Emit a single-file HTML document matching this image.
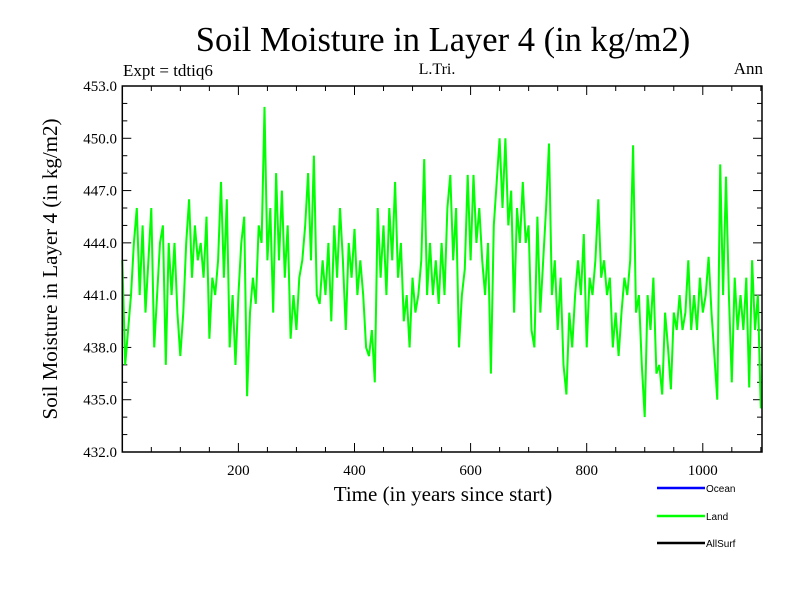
<!DOCTYPE html>
<html><head><meta charset="utf-8"><style>
body{margin:0;background:#fff;}
svg{display:block;font-family:"Liberation Serif",serif;}
</style></head><body>
<svg id="chart" width="800" height="600" viewBox="0 0 800 600" xmlns="http://www.w3.org/2000/svg">
<rect x="0" y="0" width="800" height="600" fill="#fff"/>
<text x="443" y="51" font-size="34.5" text-anchor="middle">Soil Moisture in Layer 4 (in kg/m2)</text>
<text x="123" y="76" font-size="17">Expt = tdtiq6</text>
<text x="437" y="74" font-size="16" text-anchor="middle">L.Tri.</text>
<text x="763" y="74" font-size="17" text-anchor="end">Ann</text>
<text x="443" y="501" font-size="21" text-anchor="middle">Time (in years since start)</text>
<text transform="translate(57,269) rotate(-90)" font-size="21" text-anchor="middle">Soil Moisture in Layer 4 (in kg/m2)</text>
<g id="ticks"></g>
<g id="series"></g>
<rect x="122.3" y="86" width="639.7" height="366" fill="none" stroke="#000" stroke-width="1.5"/>
<g font-family="Liberation Sans, sans-serif" font-size="10">
<line x1="657" y1="488" x2="705" y2="488" stroke="#0000ff" stroke-width="2.5"/>
<text x="706" y="492">Ocean</text>
<line x1="657" y1="516" x2="705" y2="516" stroke="#00ff00" stroke-width="2.5"/>
<text x="706" y="520">Land</text>
<line x1="657" y1="543" x2="705" y2="543" stroke="#000" stroke-width="2.5"/>
<text x="706" y="547">AllSurf</text>
</g>
</svg>
<script>
const years = [];
for (let y = 0; y <= 1100; y += 5) years.push(y);
const landValues = [443,437,439,441,444,446,441,445,440,443,446,438,441,444,445,437,444,441,444,440,437.5,440,444,446.5,442,445,443,444,442,445.5,438.5,442,441,443,447.5,442,446.5,438,441,437,441,444,445.5,435.2,440,442,440.5,445,444,451.8,443,446,440,448,443,447,442,445,438.5,441,439,442,443,445,448,443,449,441,440.5,443,441,444,439.5,445,442,446,443,439,444,442,444.8,441,443,441,438,437.5,439,436,446,442,445,441,446,443,447.5,442,444,439.5,441,438,442,440,441,443,448.8,441,444,441,443,440.5,444,441,446,447.9,443,446,438,441,442.5,447.9,443,447.9,444,446,443,441,444,436.5,445,447.5,450,446,450,445,447,440,446,444,447.5,444,445,439,438,445.5,440,443,446,449.7,441,443,439,442,437,435.3,440,438,441,443,441,444.5,438,442,441,443,446.5,442,443,441,442,438,440,437.5,440,442,441,443,449.6,440,441,437,434,441,439,442,436.5,437,435.3,440,438,435.6,440,439,441,439,440,443,439,441,439,442,440,441,443.2,440,437.5,435,448.5,441,447.8,441,436,442,439,441,439,442,435.7,443,439,441,434.5];
const yTickValues = [432,435,438,441,444,447,450,453];
const yTickLabels = ["432.0","435.0","438.0","441.0","444.0","447.0","450.0","453.0"];
const xTickValues = [200,400,600,800,1000];
const xTickLabels = ["200","400","600","800","1000"];

const X0 = 122.3, X1 = 762, Y0 = 452, Y1 = 86;
const xMin = 0, xMax = 1102, yMin = 432, yMax = 453;
function xScale(v){ return X0 + (v - xMin) / (xMax - xMin) * (X1 - X0); }
function yScale(v){ return Y0 - (v - yMin) / (yMax - yMin) * (Y0 - Y1); }
const NS = "http://www.w3.org/2000/svg";
const ticks = document.getElementById('ticks');
const series = document.getElementById('series');
function mk(tag, attrs, parent){ const e = document.createElementNS(NS, tag); for (const k in attrs) e.setAttribute(k, attrs[k]); parent.appendChild(e); return e; }

for (let v = yMin; v <= yMax; v += 1) {
  const major = ((v - yMin) % 3 === 0);
  const len = major ? 9 : 5;
  const y = yScale(v);
  const l = mk('line', {x1: X0, y1: y, x2: X0 + len, y2: y, stroke: '#000', 'stroke-width': 1}, ticks);
  
  
  const r = mk('line', {x1: X1, y1: y, x2: X1 - len, y2: y, stroke: '#000', 'stroke-width': 1}, ticks);
  
  
}
yTickValues.forEach((v, i) => {
  const t = mk('text', {x: 117, y: yScale(v) + 5, 'font-size': 15, 'text-anchor': 'end'}, ticks);
  t.textContent = yTickLabels[i];
  
  
});
for (let v = 50; v < xMax; v += 50) {
  const major = (v % 200 === 0);
  const len = major ? 9 : 5;
  const x = xScale(v);
  const b = mk('line', {x1: x, y1: Y0, x2: x, y2: Y0 - len, stroke: '#000', 'stroke-width': 1}, ticks);
  
  
  const t = mk('line', {x1: x, y1: Y1, x2: x, y2: Y1 + len, stroke: '#000', 'stroke-width': 1}, ticks);
  
  
}
xTickValues.forEach((v, i) => {
  const t = mk('text', {x: xScale(v), y: 475, 'font-size': 15, 'text-anchor': 'middle'}, ticks);
  t.textContent = xTickLabels[i];
  
  
});
const pts = years.map((yr, i) => xScale(yr).toFixed(1) + ',' + yScale(landValues[i]).toFixed(1)).join(' ');
const line = mk('polyline', {points: pts, fill: 'none', stroke: '#00ff00', 'stroke-width': 2, 'stroke-linejoin': 'miter'}, series);


</script>
</body></html>
